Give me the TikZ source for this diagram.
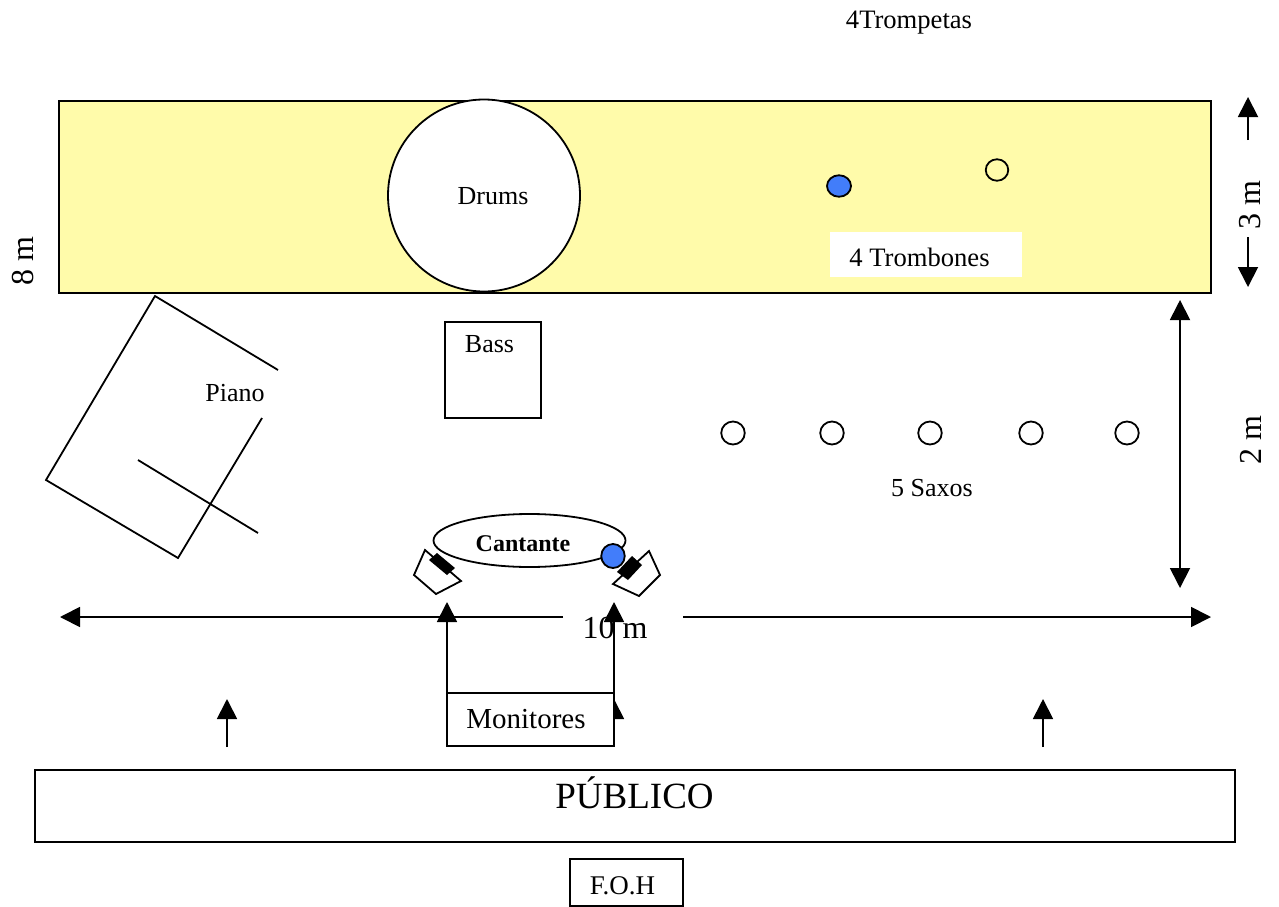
\documentclass[tikz,border=0pt]{standalone}
\usepackage{fontspec}
\setmainfont{Liberation Serif}
\usetikzlibrary{arrows.meta,shapes.geometric}
\definecolor{stagecolor}{RGB}{255,251,170}
\definecolor{micblue}{RGB}{66,125,250}
\tikzset{
	box/.style={draw=black,line width=1.8pt,fill=white,inner sep=0pt,outer sep=0pt},
	seat/.style={ellipse,draw=black,line width=1.8pt,fill=white,inner sep=0pt,outer sep=0pt,minimum width=23.5pt,minimum height=23pt},
	mic/.style={seat,fill=micblue},
	dim/.style={line width=1.8pt,-{Triangle[length=20pt,width=20pt]}},
	dimboth/.style={line width=1.8pt,{Triangle[length=20pt,width=20pt]}-{Triangle[length=20pt,width=20pt]}},
	label/.style={font=\fontsize{26}{30}\selectfont,inner sep=0pt},
	biglabel/.style={font=\fontsize{32}{36}\selectfont,inner sep=0pt}
}
\begin{document}
\begin{tikzpicture}[x=1pt,y=-1pt]
	\useasboundingbox (0,0) rectangle (1279,907);
	% stage
	\node[box,fill=stagecolor,minimum width=1152pt,minimum height=192pt] (stage) at (635,197) {};
	\node[fill=white,minimum width=192pt,minimum height=45pt,inner sep=0pt] (trombback) at (926,254.5) {};
	\node[label,font=\fontsize{26.6}{30}\selectfont] (trombones) at (919.5,257.5) {4 Trombones};
	\node[label,font=\fontsize{26.6}{30}\selectfont,anchor=base] (trumpets) at (909,29) {4Trompetas};
	\node[box,circle,minimum size=192pt] (drums) at (484,195.5) {};
	\node[label] at (493,196) {Drums};
	\node[mic,minimum width=24pt,minimum height=21.5pt] (micbrass) at (839,186) {};
	\node[seat,fill=none,minimum width=22.5pt,minimum height=21.5pt] (seatbrass) at (997,170) {};
	% piano
	\draw[line width=1.8pt] (278,370) -- (155,296) -- (46,480) -- (178,558) -- (262,418);
	\draw[line width=1.8pt] (138,460) -- (258,533);
	\node[label] (piano) at (235,393) {Piano};
	% bass
	\node[box,minimum width=96pt,minimum height=96pt] (bass) at (493,370) {};
	\node[label] at (489.5,344) {Bass};
	% saxes
	\foreach \px/\name in {733/a,832/b,930/c,1031/d,1127/e}
		\node[seat] (sax\name) at (\px,433) {};
	\node[label] (saxos) at (932,488) {5 Saxos};
	% singer
	\node[box,ellipse,minimum width=192pt,minimum height=53pt] (singer) at (529.5,540.5) {};
	\node[font=\fontsize{24}{28}\selectfont\bfseries,inner sep=0pt] at (523,544) {Cantante};
	\node[mic,minimum height=24pt] (micsinger) at (613,556) {};
	% wedges
	\draw[line width=1.8pt,fill=white] (425,550) -- (414,575) -- (436,594) -- (461,581) -- cycle;
	\fill (429,560) -- (437,553) -- (455,568) -- (447,575) -- cycle;
	\draw[line width=1.8pt,fill=white] (649,551) -- (660,575) -- (639,596) -- (613,584) -- cycle;
	\fill (632,556) -- (642,565) -- (628,580) -- (617,572) -- cycle;
	% dimensions
	\coordinate (widthl) at (60,617);
	\coordinate (widthml) at (563,617);
	\coordinate (widthmr) at (683,617);
	\coordinate (widthr) at (1211,617);
	\draw[dim] (widthml) -- (widthl);
	\draw[dim] (widthmr) -- (widthr);
	\node[biglabel] (width) at (615,628) {10 m};
	\coordinate (twot) at (1180,300);
	\coordinate (twob) at (1180,588);
	\draw[dimboth] (twot) -- (twob);
	\node[biglabel,rotate=90] (two) at (1251,440) {2 m};
	\coordinate (threeat) at (1248,140);
	\coordinate (threet) at (1248,97);
	\coordinate (threeab) at (1248,237);
	\coordinate (threeb) at (1248,287);
	\draw[dim] (threeat) -- (threet);
	\draw[dim] (threeab) -- (threeb);
	\node[biglabel,rotate=90] (three) at (1250,205) {3 m};
	\node[biglabel,rotate=90] (eight) at (23,261) {8 m};
	% monitors
	\coordinate (hidden) at (614,699);
	\coordinate (hiddenb) at (614,746);
	\draw[dim] (hiddenb) -- (hidden);
	\node[box,minimum width=167pt,minimum height=53pt] (monitors) at (530.5,719.5) {};
	\node[font=\fontsize{29}{33}\selectfont,inner sep=0pt] at (526,719.5) {Monitores};
	\coordinate (wedgel) at (447,602);
	\coordinate (wedger) at (614,602);
	\draw[dim] (monitors.north west) -- (wedgel);
	\draw[dim] (monitors.north east) -- (wedger);
	% audience
	\coordinate (publ) at (227,747);
	\coordinate (publt) at (227,699);
	\coordinate (pubr) at (1043,747);
	\coordinate (pubrt) at (1043,699);
	\draw[dim] (publ) -- (publt);
	\draw[dim] (pubr) -- (pubrt);
	\node[box,minimum width=1200pt,minimum height=72pt] (public) at (635,806) {};
	\node[font=\fontsize{37}{41}\selectfont,inner sep=0pt] at (634.5,793) {PÚBLICO};
	\node[box,minimum width=113pt,minimum height=47pt] (foh) at (626.5,882.5) {};
	\node[label,font=\fontsize{27}{30}\selectfont] at (622.5,886) {F.O.H};
\end{tikzpicture}
\end{document}
